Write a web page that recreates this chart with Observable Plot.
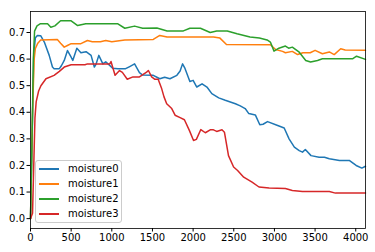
<!DOCTYPE html>
<html>
<head>
<meta charset="utf-8">
<script src="https://cdn.jsdelivr.net/npm/d3@7"></script>
<script src="https://cdn.jsdelivr.net/npm/@observablehq/plot@0.6"></script>
<style>
  html, body { margin: 0; padding: 0; background: #fff; }
  #wrap { position: relative; width: 375px; height: 252px; font-family: "DejaVu Sans", sans-serif; }
  #legend { position: absolute; left: 35px; top: 160px; width: 87px; height: 63px;
    border: 1px solid #cccccc; border-radius: 3px; background: rgba(255,255,255,0.8);
    font-size: 10px; color: #000; box-sizing: border-box; }
  .row { position: absolute; left: 0; width: 85px; height: 14px; }
  .sw { position: absolute; left: 3px; top: 6px; width: 20px; height: 1.5px; }
  .lb { position: absolute; left: 32px; top: 0; white-space: nowrap; line-height: 14px; height: 14px; }
</style>
</head>
<body>
<div id="wrap"></div>
<script>
const seriesNames = ["moisture0", "moisture1", "moisture2", "moisture3"];
const colors = ["#1f77b4", "#ff7f0e", "#2ca02c", "#d62728"];
const xTicks = [0, 500, 1000, 1500, 2000, 2500, 3000, 3500, 4000];
const yTicks = [0, 0.1, 0.2, 0.3, 0.4, 0.5, 0.6, 0.7];

const moisture0 = [[0,0],[20,0.3],[40,0.62],[60,0.68],[85,0.689],[125,0.688],[170,0.664],[230,0.614],[270,0.57],[290,0.564],[355,0.564],[380,0.575],[415,0.595],[455,0.632],[500,0.607],[520,0.595],[570,0.641],[620,0.624],[683,0.628],[745,0.614],[785,0.57],[805,0.58],[840,0.614],[890,0.582],[925,0.59],[1010,0.566],[1075,0.564],[1170,0.564],[1220,0.572],[1280,0.582],[1340,0.549],[1380,0.54],[1510,0.539],[1590,0.526],[1650,0.532],[1715,0.526],[1800,0.539],[1840,0.555],[1870,0.582],[1900,0.565],[1960,0.516],[2000,0.52],[2045,0.495],[2110,0.507],[2170,0.495],[2230,0.47],[2315,0.454],[2395,0.445],[2520,0.432],[2580,0.424],[2640,0.414],[2685,0.395],[2765,0.39],[2820,0.353],[2860,0.355],[2915,0.365],[3040,0.35],[3120,0.341],[3180,0.30],[3245,0.269],[3305,0.256],[3345,0.25],[3380,0.26],[3450,0.237],[3550,0.231],[3615,0.231],[3675,0.225],[3800,0.219],[3920,0.219],[4005,0.2],[4075,0.19],[4120,0.197]];
const moisture1 = [[0,0],[25,0.4],[45,0.6],[60,0.64],[90,0.66],[125,0.672],[330,0.674],[370,0.66],[415,0.645],[460,0.652],[500,0.658],[620,0.658],[700,0.67],[760,0.665],[860,0.665],[925,0.67],[1000,0.665],[1160,0.672],[1510,0.674],[1590,0.689],[1680,0.683],[2250,0.683],[2330,0.679],[2410,0.655],[2950,0.654],[3015,0.636],[3100,0.629],[3135,0.624],[3220,0.629],[3285,0.617],[3350,0.624],[3440,0.624],[3500,0.633],[3590,0.62],[3675,0.627],[3735,0.617],[3815,0.639],[3870,0.634],[4120,0.633]];
const moisture2 = [[0,0],[20,0.32],[35,0.6],[50,0.705],[80,0.725],[123,0.733],[210,0.733],[250,0.72],[300,0.725],[370,0.744],[500,0.744],[580,0.726],[680,0.733],[1070,0.733],[1160,0.716],[1280,0.724],[1380,0.716],[1555,0.717],[1680,0.706],[1880,0.706],[1960,0.716],[2090,0.716],[2210,0.70],[2290,0.706],[2420,0.706],[2540,0.695],[2700,0.683],[2815,0.679],[2910,0.672],[2950,0.664],[2995,0.63],[3055,0.641],[3135,0.649],[3175,0.641],[3220,0.645],[3305,0.626],[3385,0.595],[3445,0.589],[3530,0.595],[3590,0.601],[3960,0.601],[4010,0.611],[4120,0.599]];
const moisture3 = [[0,0],[25,0.02],[40,0.2],[55,0.38],[70,0.44],[100,0.48],[128,0.5],[190,0.526],[290,0.539],[355,0.554],[415,0.57],[500,0.579],[670,0.579],[700,0.582],[975,0.582],[990,0.591],[1040,0.539],[1095,0.557],[1130,0.55],[1190,0.524],[1260,0.533],[1340,0.533],[1428,0.551],[1450,0.557],[1490,0.533],[1530,0.524],[1570,0.524],[1613,0.489],[1642,0.458],[1675,0.432],[1737,0.414],[1778,0.389],[1840,0.38],[1893,0.372],[1955,0.331],[2005,0.294],[2040,0.298],[2095,0.335],[2150,0.323],[2210,0.334],[2250,0.334],[2290,0.328],[2355,0.334],[2385,0.325],[2435,0.237],[2498,0.194],[2547,0.181],[2622,0.156],[2725,0.137],[2810,0.119],[2935,0.115],[3135,0.113],[3220,0.106],[3345,0.102],[3675,0.102],[3750,0.096],[4120,0.096]];

const allSeries = [moisture0, moisture1, moisture2, moisture3];
const rows = allSeries.flatMap((s, i) => s.map(([x, y]) => ({series: seriesNames[i], x, y})));

const chart = Plot.plot({
  width: 375,
  height: 252,
  marginLeft: 30,
  marginRight: 10,
  marginTop: 11,
  marginBottom: 24,
  style: {fontFamily: "DejaVu Sans, sans-serif", fontSize: "10px", background: "#fff", color: "#000"},
  x: {domain: [0, 4120], label: null},
  y: {domain: [-0.0371, 0.779], label: null},
  color: {domain: seriesNames, range: colors},
  marks: [
    Plot.line(rows, {x: "x", y: "y", z: "series", stroke: "series", strokeWidth: 1.5}),
    Plot.frame({stroke: "#000", strokeWidth: 0.8}),
    Plot.axisX({ticks: xTicks, tickSize: 3.5, tickPadding: 2, label: null, tickFormat: d3.format("d")}),
    Plot.axisY({ticks: yTicks, tickSize: 3.5, tickPadding: 2, label: null, tickFormat: d3.format(".1f")})
  ]
});

const wrap = document.getElementById("wrap");
wrap.appendChild(chart);

const legend = document.createElement("div");
legend.id = "legend";
seriesNames.forEach((name, i) => {
  const row = document.createElement("div");
  row.className = "row";
  row.style.top = (1 + i * 15) + "px";
  const sw = document.createElement("div");
  sw.className = "sw";
  sw.style.background = colors[i];
  const lb = document.createElement("div");
  lb.className = "lb";
  lb.textContent = name;
  row.appendChild(sw);
  row.appendChild(lb);
  legend.appendChild(row);
});
wrap.appendChild(legend);
</script>
</body>
</html>
